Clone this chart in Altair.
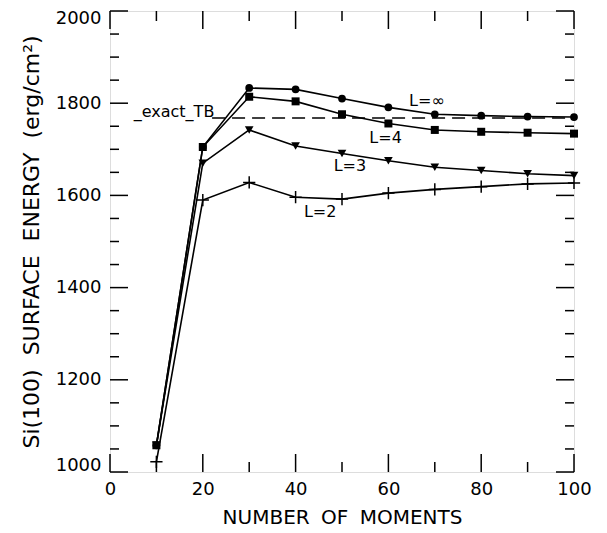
import altair as alt
import pandas as pd

moments = [10, 20, 30, 40, 50, 60, 70, 80, 90, 100]
L_inf = [1058, 1705, 1833, 1830, 1810, 1791, 1776, 1773, 1771, 1770]
L_4 = [1058, 1705, 1814, 1804, 1776, 1756, 1742, 1738, 1736, 1734]
L_3 = [1058, 1670, 1742, 1707, 1691, 1675, 1661, 1654, 1647, 1643]
L_2 = [1022, 1590, 1628, 1596, 1592, 1605, 1613, 1619, 1625, 1627]
exact_tb = 1768
exact_x = [22, 100]

label_text = ["L=\u221e", "L=4", "L=3", "L=2", "_exact_TB"]
label_x = [68.3, 59.4, 51.7, 45.3, 13.8]
label_y = [1805, 1724, 1664, 1563, 1780]

x_major = [0, 20, 40, 60, 80, 100]
x_minor = [10, 30, 50, 70, 90]
y_major = [1000, 1200, 1400, 1600, 1800, 2000]
y_minor = [v for v in range(1050, 2000, 50) if v % 200 != 0]

W, H = 464, 461
FONT = "DejaVu Sans"
GAP_Y = " \u00a0"
GAP_X = " \u2005"

series = {"inf": L_inf, "4": L_4, "3": L_3, "2": L_2}
rows = []
for name, vals in series.items():
    for m, v in zip(moments, vals):
        rows.append({"series": name, "x": m, "y": v})
df = pd.DataFrame(rows)

xs = alt.Scale(domain=[0, 100], nice=False, zero=False)
ys = alt.Scale(domain=[1000, 2000], nice=False, zero=False)

xax = alt.Axis(values=x_major, ticks=False, domain=False, grid=False,
               format="d", labelFlush=False,
               labelFont=FONT, labelFontSize=18, labelColor="black",
               labelPadding=8, title=GAP_X.join(["NUMBER", "OF", "MOMENTS"]),
               titleFont=FONT, titleFontSize=20, titleFontWeight="normal",
               titleColor="black", titlePadding=9)
yax = alt.Axis(values=y_major, ticks=False, domain=False, grid=False,
               format="d", labelFlush=True, labelFlushOffset=2,
               labelFont=FONT, labelFontSize=18, labelColor="black",
               labelPadding=9,
               title=GAP_Y.join(["Si(100)", "SURFACE", "ENERGY", "(erg/cm\u00b2)"]),
               titleFont=FONT, titleFontSize=22, titleFontWeight="normal",
               titleColor="black", titlePadding=12)

base = alt.Chart(df)
lines = base.mark_line(color="black", strokeWidth=1.6).encode(
    x=alt.X("x:Q", scale=xs, axis=xax),
    y=alt.Y("y:Q", scale=ys, axis=yax),
    detail="series:N",
)

def pts(name, **mk):
    return alt.Chart(df[df.series == name]).mark_point(color="black", **mk).encode(
        x=alt.X("x:Q", scale=xs), y=alt.Y("y:Q", scale=ys))

p_inf = pts("inf", shape="circle", filled=True, size=60, opacity=1)
p_4 = pts("4", shape="square", filled=True, size=64, opacity=1)
p_3 = pts("3", shape="triangle-down", filled=True, size=75, opacity=1)
p_2 = pts("2", shape="M-1,0L1,0M0,-1L0,1", filled=False, size=150,
          strokeWidth=1.5, opacity=1)

dash_df = pd.DataFrame({"x": exact_x, "y": [exact_tb, exact_tb]})
dash = alt.Chart(dash_df).mark_line(color="black", strokeWidth=1.5,
                                    strokeDash=[13, 7]).encode(
    x=alt.X("x:Q", scale=xs), y=alt.Y("y:Q", scale=ys))

lab_df = pd.DataFrame({"t": label_text, "x": label_x, "y": label_y})
labels = alt.Chart(lab_df).mark_text(font=FONT, fontSize=16,
                                     color="black", align="center",
                                     baseline="middle").encode(
    x=alt.X("x:Q", scale=xs), y=alt.Y("y:Q", scale=ys), text="t:N")

def xticks(vals, L):
    d = pd.DataFrame({"x": vals})
    b = alt.Chart(d).mark_rule(color="black", strokeWidth=1.5)
    return (b.encode(x=alt.X("x:Q", scale=xs), y=alt.value(H), y2=alt.value(H - L))
            + b.encode(x=alt.X("x:Q", scale=xs), y=alt.value(0), y2=alt.value(L)))

def yticks(vals, L):
    d = pd.DataFrame({"y": vals})
    b = alt.Chart(d).mark_rule(color="black", strokeWidth=1.5)
    return (b.encode(y=alt.Y("y:Q", scale=ys), x=alt.value(0), x2=alt.value(L))
            + b.encode(y=alt.Y("y:Q", scale=ys), x=alt.value(W), x2=alt.value(W - L)))

chart = alt.layer(
    lines, dash,
    xticks(x_major, 18), xticks(x_minor, 10),
    yticks(y_major, 18), yticks(y_minor, 9),
    p_inf, p_4, p_3, p_2, labels,
).properties(
    width=W, height=H,
    autosize=alt.AutoSizeParams(type="none"),
    padding={"left": 102, "top": 3, "right": 25, "bottom": 60},
).configure_view(stroke="black", strokeWidth=2).configure(background="white")

chart.save("out.html", embed_options={"renderer": "svg", "actions": False})
